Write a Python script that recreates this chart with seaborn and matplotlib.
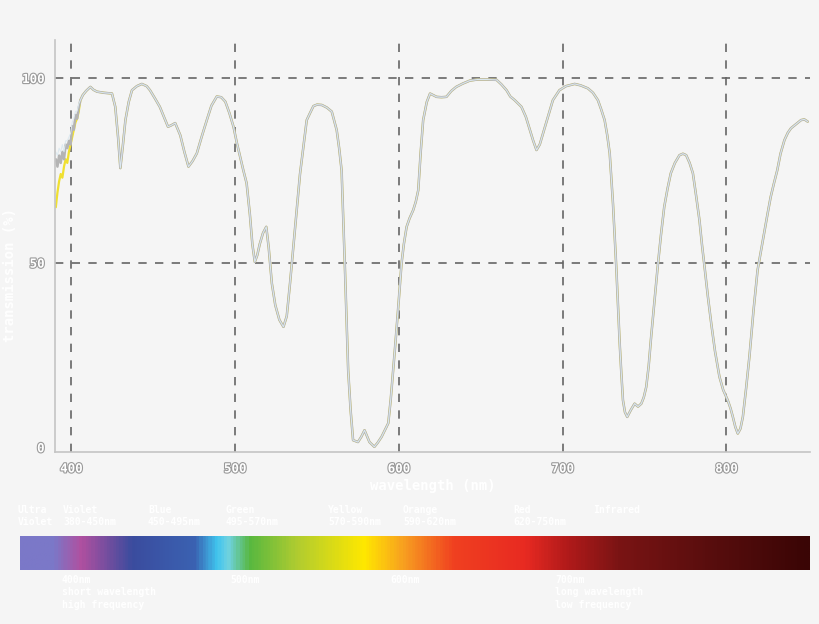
import numpy as np
import pandas as pd
import matplotlib.pyplot as plt
import matplotlib.patheffects as pe
from matplotlib.colors import LinearSegmentedColormap
import seaborn as sns

# --- dados ---
# início da curva (390-405 nm), onde as três medições se separam
head_wl = [390.5, 391.5, 392.5, 393.5, 394.5, 395.5, 396.5, 397.5,
           398.5, 399.5, 400.5, 401.5, 402.5, 403.5, 404.5]
head_gray = [78, 76, 79, 77, 80, 78, 82, 81, 83, 82, 87, 86, 90, 89, 92]
head_blue = [80, 79, 81, 80, 82, 80, 83, 83, 84, 85, 88, 89, 91, 91, 93]
head_yellow = [65, 69, 72, 74, 73, 76, 78, 77, 80, 82, 84, 86, 88, 89, 91]

# restante da curva (comum às três medições)
tail_wl = [405.5, 407, 409, 411.6, 413.5, 415.7, 420, 424.8, 426.8, 428.5, 429.9,
           431.5, 433, 435, 437, 440, 443, 446, 448, 451, 454, 457, 459, 461,
           463.4, 466.5, 469, 471.5, 474, 476.6, 479.5, 482.7, 485.5, 488.8,
           491.5, 494, 496.5, 499, 501, 503, 505, 507, 509, 510.5, 512, 513.5,
           515, 517, 519, 520.5, 522.4, 524.5, 527, 529.5, 531.5, 533.5, 535.5,
           537.6, 539.6, 541.7, 543.7, 545.7, 547.8, 550, 552.9, 556, 559, 562,
           563.5, 565, 566, 567, 568, 569, 570.5, 572, 575, 577, 579, 580.5, 582,
           585, 587, 589.4, 593.5, 595, 596.5, 598, 599.6, 601.6, 603, 604.7,
           606.5, 608.7, 610.3, 611.8, 613.3, 614.8, 617, 619, 623, 626, 629,
           632, 635, 639, 643.3, 648, 653.5, 659.6, 662.5, 665.7, 668, 670.7,
           674.8, 677.5, 680, 682, 684, 686, 688, 691, 694, 698, 702, 707.3, 711,
           715.4, 718.5, 721.5, 723.5, 725.6, 727.2, 728.7, 729.7, 730.7, 731.7,
           732.7, 733.8, 734.8, 735.8, 736.8, 738, 739.4, 741.5, 743.9, 746, 748,
           749.5, 751, 752.5, 754, 756, 758, 760, 762, 764, 766, 768.5, 771.3,
           773.4, 775.4, 777.5, 779.5, 781.5, 783.5, 785, 786.6, 788.6, 790.7,
           793, 795.7, 798, 800.8, 802.5, 803.9, 805.4, 806.9, 808.5, 810, 812,
           814, 816.5, 819, 821, 823, 825, 827, 829, 831, 833, 835.4, 837.5,
           839.4, 842.5, 845.5, 847.5, 849.6]
tail_t = [94, 95.4, 96.5, 97.6, 96.8, 96.3, 96, 95.8, 92.2, 84, 75.6,
          82, 88.6, 93.5, 96.7, 97.8, 98.4, 97.8, 96.7, 94.5, 92.2, 89, 86.8, 87.2,
          87.8, 84.5, 80, 76, 77.5, 79.6, 84, 88.6, 92.5, 95,
          94.8, 93.6, 90.5, 86.8, 82.5, 78.7, 75, 71.5, 63, 55, 50.2, 52,
          55, 58, 59.7, 54, 44.4, 38.5, 34.5, 32.6, 35.5, 44.4, 54,
          64.2, 74, 81.4, 88.6, 90.5, 92.4, 92.8, 92.7, 92, 90.9, 85.9,
          81, 75, 62, 48.9, 35, 20.9, 10, 1.9, 1.4, 2.8, 4.6, 3, 1.4,
          0.1, 1.2, 2.8, 6.5, 13, 20.9, 29, 38, 49.8, 55, 59.7,
          62, 64.2, 66.5, 69.6, 80, 88.6, 93.5, 95.8, 94.9, 94.8, 94.9,
          96.5, 97.6, 98.5, 99.3, 99.6, 99.6, 99.5, 98.3, 96.7, 95, 94,
          92.2, 89.5, 85.9, 83, 80.5, 82, 85, 89.5, 94, 96.7, 97.8, 98.4, 98,
          97.2, 96, 94, 91.5, 88.6, 84.5, 79.6, 73, 66, 57.5,
          48.9, 38, 28.1, 20, 12.7, 9.5, 8.2, 10, 11.8, 11, 11.8,
          13.5, 16.3, 22, 29.9, 39.5, 48.9, 57.5, 65.1, 70, 74.2, 77, 79.1,
          79.5, 79.1, 77, 74.2, 68, 61.5, 55, 48.9, 41, 33.5,
          26, 19.1, 15.5, 12.7, 10.5, 8.2, 5.5, 3.7, 5, 8.2, 16,
          24.5, 37, 48, 53, 57.9, 63, 67.8, 71.5, 75, 79.5, 83.2, 85.2,
          86.4, 87.5, 88.6, 88.8, 88.2]

x_ticks = [400, 500, 600, 700, 800]
y_ticks = [0, 50, 100]

band_top = ["Ultra\nViolet", "Violet\n380-450nm", "Blue\n450-495nm",
            "Green\n495-570nm", "Yellow\n570-590nm", "Orange\n590-620nm",
            "Red\n620-750nm", "Infrared"]
band_bottom = ["400nm\nshort wavelength\nhigh frequency", "500nm", "600nm",
               "700nm\nlong wavelength\nlow frequency"]

spectrum_colors = ["#7b78c8", "#7b78c8", "#b050a0", "#3b4c9e", "#3a62b2",
                   "#40c4ee", "#6fd2e2", "#58b840", "#b0cc30", "#ffe800",
                   "#f8a020", "#f04020", "#e82a22", "#b01a1a", "#7a1414",
                   "#5a0e0e", "#3a0505"]

df = pd.concat([
    pd.DataFrame({"wl": head_wl + tail_wl, "t": head_yellow + tail_t, "s": "yellow"}),
    pd.DataFrame({"wl": head_wl + tail_wl, "t": head_gray + tail_t, "s": "gray"}),
    pd.DataFrame({"wl": head_wl + tail_wl, "t": head_blue + tail_t, "s": "blue"}),
])

# --- estilo ---
BG = "#f5f5f5"
sns.set_theme(style="white")
plt.rcParams["font.family"] = ["DejaVu Sans Mono", "DejaVu Sans"]

fig = plt.figure(figsize=(8.2, 6.24), dpi=100, facecolor=BG)
W, H = 820, 624
ax = fig.add_axes([55 / W, 1 - 452 / H, 755 / W, 412 / H], facecolor=BG)

line_style = {"yellow": ("#f0e030", 1.6), "gray": ("#b4b4b4", 1.8), "blue": ("#dce9f0", 0.7)}
for name in ["yellow", "gray", "blue"]:
    color, lw = line_style[name]
    sns.lineplot(data=df[df["s"] == name], x="wl", y="t", color=color, lw=lw,
                 ax=ax, errorbar=None, estimator=None, sort=True)

ax.set_xlim(390, 851)
ax.set_ylim(-1.3, 110.3)
ax.set_xticks(x_ticks)
ax.set_yticks(y_ticks)

ax.grid(True, color="#666666", linestyle=(0, (5, 5)), linewidth=1.2)
ax.yaxis.get_gridlines()[0].set_visible(False)
ax.set_axisbelow(True)

for side in ["top", "right"]:
    ax.spines[side].set_visible(False)
for side in ["left", "bottom"]:
    ax.spines[side].set_color("#c4c4c4")
    ax.spines[side].set_linewidth(1.2)

ax.tick_params(axis="both", direction="inout", length=7, width=1, color="#888888",
               labelsize=9, labelcolor="white", pad=4)
outline = [pe.withStroke(linewidth=1.6, foreground="#9a9a9a")]
for lab in ax.get_xticklabels() + ax.get_yticklabels():
    lab.set_path_effects(outline)
    lab.set_fontweight("bold")

ax.set_xlabel("wavelength (nm)", color="white", fontsize=10, fontweight="bold")
ax.set_ylabel("transmission (%)", color="white", fontsize=10, fontweight="bold")
ax.xaxis.set_label_coords(0.5, -0.066)
ax.yaxis.set_label_coords(-0.05, 0.43)

# --- faixa do espectro ---
bar = fig.add_axes([20 / W, 1 - 570 / H, 790 / W, 34 / H])
cmap = LinearSegmentedColormap.from_list(
    "spec", list(zip([0, 0.04, 0.075, 0.14, 0.22, 0.248, 0.262, 0.29, 0.35, 0.435,
                      0.485, 0.55, 0.64, 0.695, 0.76, 0.87, 1.0], spectrum_colors)))
bar.imshow(np.linspace(0, 1, 600)[None, :], aspect="auto", cmap=cmap)
bar.set_axis_off()

top_x = [18, 63, 148, 226, 328, 403, 513, 593]
for txt, x in zip(band_top, top_x):
    fig.text(x / W, 1 - 505 / H, txt, color="white", fontsize=7, fontweight="bold",
             va="top", ha="left", linespacing=1.25)

bottom_x = [62, 230, 390, 555]
for txt, x in zip(band_bottom, bottom_x):
    fig.text(x / W, 1 - 575 / H, txt, color="white", fontsize=7, fontweight="bold",
             va="top", ha="left", linespacing=1.3)

fig.savefig("out.png", dpi=100, facecolor=BG)
